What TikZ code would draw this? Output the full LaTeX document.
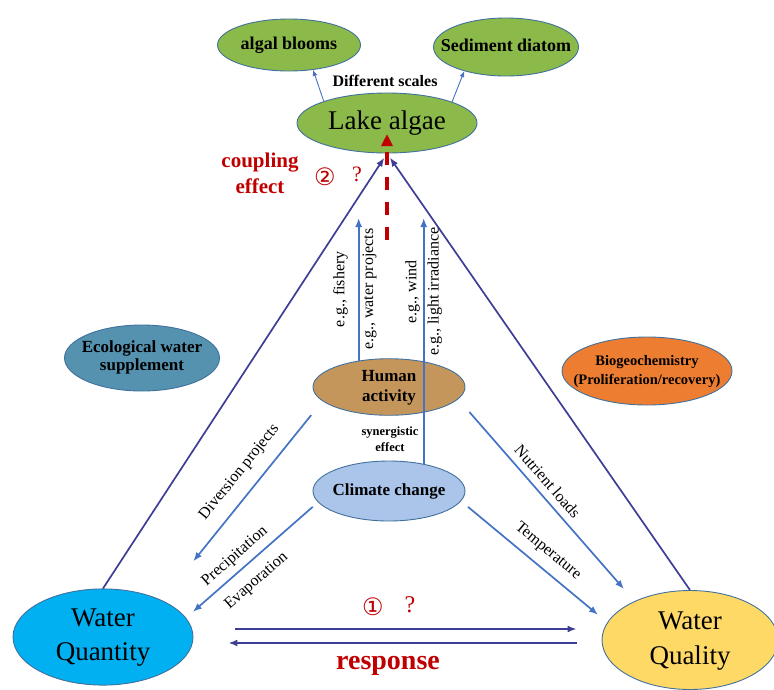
\documentclass[tikz,border=0pt]{standalone}
\usepackage{fontspec}
\setmainfont{Liberation Serif}
\newfontfamily\circfont{DejaVu Sans}
\usepackage{tikz}
\usetikzlibrary{%
	calc,%
	shapes,%
	arrows.meta%
}
\definecolor{leaf}{RGB}{139,185,74}
\definecolor{rim}{RGB}{65,113,156}
\definecolor{bronze}{RGB}{196,150,92}
\definecolor{sky}{RGB}{170,196,234}
\definecolor{teal-blue}{RGB}{84,146,176}
\definecolor{tangerine}{RGB}{237,125,49}
\definecolor{cyan-blue}{RGB}{0,176,240}
\definecolor{butter}{RGB}{255,217,102}
\definecolor{navy-line}{RGB}{62,62,150}
\definecolor{link-blue}{RGB}{68,114,196}
\definecolor{dark-red}{RGB}{192,0,0}

\newcommand{\ctr}[1]{\makebox[0pt]{\begin{tabular}{@{}c@{}}#1\end{tabular}}}
\newcommand{\fsz}[2]{\fontsize{#1}{#2}\selectfont}

\begin{document}
\begin{tikzpicture}[x=1pt,y=-1pt,
		blob/.style={ellipse,draw=rim,line width=0.9pt,inner sep=0pt},
		tri/.style={navy-line,line width=1.7pt,-{Latex[length=9pt,width=7pt]}},
		cause/.style={link-blue,line width=1.7pt,-{Latex[length=9pt,width=7pt]}},
		scalearrow/.style={link-blue,line width=0.9pt,-{Latex[length=6pt,width=5pt]}},
		lab/.style={font=\fsz{16}{18},text=black,inner sep=3pt}]
	\useasboundingbox (0,0) rectangle (774,689);

	% Algae at the top
	\node[blob,fill=leaf,minimum width=143,minimum height=52,font=\fsz{18}{20}\bfseries] (blooms) at (289,45) {\ctr{algal blooms}};
	\node[blob,fill=leaf,minimum width=145,minimum height=58,font=\fsz{18}{20}\bfseries] (diatom) at (506,47) {\ctr{Sediment diatom}};
	\node[blob,fill=leaf,minimum width=180,minimum height=60,font=\fsz{27}{30}] (algae) at (387,123) {\ctr{Lake algae}};
	\node[font=\fsz{16}{18}\bfseries] (scales) at (385,81) {Different scales};

	% Drivers
	\node[blob,fill=teal-blue,minimum width=155,minimum height=66,font=\fsz{17}{18}\bfseries] (eco) at (142,358) {\ctr{Ecological water\\ supplement}};
	\node[blob,fill=tangerine,minimum width=170,minimum height=68,font=\fsz{14.5}{19}\bfseries] (bio) at (647,371) {\ctr{Biogeochemistry\\ (Proliferation/recovery)}};
	\node[blob,fill=bronze,minimum width=152,minimum height=54,font=\fsz{17}{20}\bfseries] (hum) at (389,387) {\ctr{Human\\ activity}};
	\node[blob,fill=sky,minimum width=152,minimum height=60,font=\fsz{17}{20}\bfseries] (clim) at (389,491) {\ctr{Climate change}};
	\node[font=\fsz{12.5}{16}\bfseries] (syn) at (390,440) {\ctr{synergistic\\ effect}};

	% Water quantity and quality
	\node[blob,fill=cyan-blue,minimum width=180,minimum height=94,font=\fsz{27}{34}] (qty) at (103,637) {\ctr{Water\\ Quantity}};
	\node[blob,fill=butter,minimum width=176,minimum height=96,font=\fsz{27}{35}] (qual) at (690,640) {\ctr{Water\\ Quality}};

	% Triangle and response
	\draw[tri,shorten >=5pt] (qty.north) -- (algae.south);
	\draw[tri,shorten >=5pt] (qual.north) -- (algae.south);
	\draw[tri] ($(qty.east)+(42,-8)$) -- ($(qual.west)+(-25,-11)$);
	\draw[tri] ($(qual.west)+(-25,3)$) -- ($(qty.east)+(35,6)$);

	% Coupling question
	\coordinate (cpl) at (387,240);
	\draw[dark-red,line width=3.5pt,dash pattern=on 13pt off 12pt,-{Triangle[length=12pt,width=11pt]},shorten >=11pt] (cpl) -- (algae.center);

	% Arrows from drivers
	\coordinate (tipline) at (0,218);
	\coordinate (humtip) at (hum.139 |- tipline);
	\coordinate (climtip) at (clim.38 |- tipline);
	\draw[cause] (hum.139) -- node[lab,sloped,above=7pt] {e.g., fishery} node[lab,sloped,below] {e.g., water projects} (humtip);
	\draw[cause] (clim.38) -- node[lab,sloped,above,pos=0.7] {e.g., wind} node[lab,sloped,below,pos=0.7] {e.g., light irradiance} (climtip);
	\draw[cause,shorten <=18pt,shorten >=50pt] (hum.192) -- node[lab,sloped,above=9pt,pos=0.42] {Diversion projects} (qty.32);
	\draw[cause,shorten <=7pt,shorten >=9pt] (clim.189) -- node[lab,sloped,above=3pt,pos=0.56] {Precipitation} node[lab,sloped,below=8pt,pos=0.56] {Evaporation} (qty.13);
	\draw[cause,shorten <=17pt,shorten >=16pt] (hum.350) -- node[lab,sloped,above=4pt,pos=0.45] {Nutrient loads} (qual.145);
	\draw[cause,shorten <=9pt,shorten >=12pt] (clim.352) -- node[lab,sloped,above=6pt,pos=0.52] {Temperature} (qual.168);

	% Different scales
	\draw[scalearrow] (algae.161) -- (blooms.314);
	\draw[scalearrow] (algae.18) -- (diatom.210);

	% Red marks
	\node[dark-red,font=\fsz{21}{26}\bfseries,align=center] (cpltxt) at (260,173) {coupling\\ effect};
	\node[dark-red,font=\circfont\fsz{24}{26}] (two) at (325,177) {②};
	\node[dark-red,font=\fsz{22}{24}] (qtwo) at (357,174) {?};
	\node[dark-red,font=\circfont\fsz{24}{26}] (one) at (373,607) {①};
	\node[dark-red,font=\fsz{24}{26}] (qone) at (410,605) {?};
	\node[dark-red,font=\fsz{28}{30}\bfseries] (resp) at (388,666) {response};
\end{tikzpicture}
\end{document}
